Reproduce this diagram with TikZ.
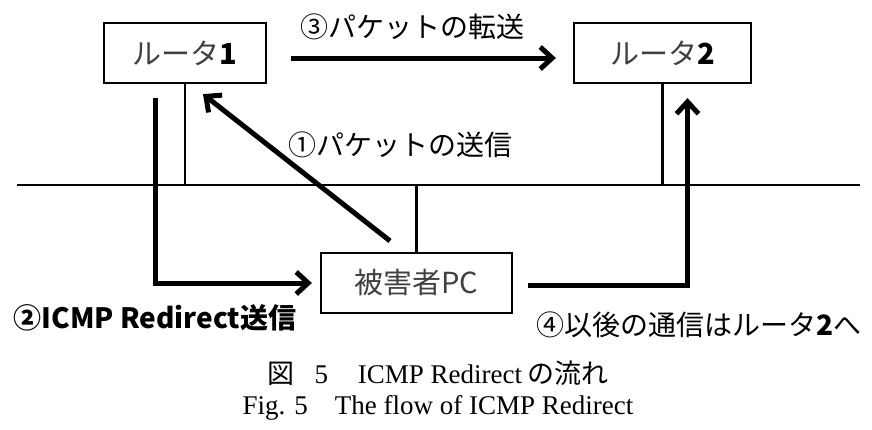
\documentclass[tikz,border=0pt]{standalone}
\usepackage{fontspec}
\setmainfont{Liberation Serif}
\newfontfamily\jpfont{Noto Sans CJK JP}
\usetikzlibrary{arrows.meta}

\begin{document}
\begin{tikzpicture}[x=1pt,y=-1pt,
    box/.style={draw,line width=2.2pt,minimum width=#1,minimum height=60pt,inner sep=0pt,
        font=\jpfont\fontsize{29}{29}\selectfont,text=black!75},
    lan/.style={line width=2.2pt},
    flow/.style={line width=5pt,-{Straight Barb[length=12pt,width=22pt]}},
    lbl/.style={font=\jpfont\fontsize{28}{28}\selectfont,inner sep=0pt}]
    \useasboundingbox (0,0) rectangle (872,429);

    \node[box=162pt] (r1) at (185,53) {ルータ{\bfseries\color{black}1}};
    \node[box=177pt] (r2) at (662.5,53) {ルータ{\bfseries\color{black}2}};
    \node[box=191pt] (pc) at (416.5,283) {被害者PC};

    \coordinate (lanL) at (17,185);
    \coordinate (lanR) at (860,185);
    \draw[lan] (lanL)--(lanR);
    \foreach \n/\a in {r1/south,r2/south,pc/north}{
        \draw[lan] (\n.\a)--(\n.\a |- lanL);
    }

    \draw[flow] ([xshift=-26.5pt,yshift=11pt]pc.north)--([xshift=18pt,yshift=-10pt]r1.south);
    \draw[flow] ([xshift=-30pt,yshift=-14pt]r1.south) |- ([xshift=-8pt]pc.west);
    \draw[flow] ([xshift=24pt,yshift=-5pt]r1.east)--([xshift=-17pt,yshift=-5pt]r2.west);
    \draw[flow] ([xshift=15pt,yshift=-2pt]pc.east) -| ([xshift=25pt,yshift=-14pt]r2.south);

    \node[lbl] (l1) at (400,145) {①パケットの送信};
    \node[lbl,font=\jpfont\bfseries\fontsize{28}{28}\selectfont] (l2) at (155,318) {②ICMP Redirect送信};
    \node[lbl] (l3) at (412,27) {③パケットの転送};
    \node[lbl] (l4) at (699,325) {④以後の通信はルータ{\bfseries 2}へ};

    \node[font=\fontsize{27}{27}\selectfont] (cap1) at (438,373)
        {{\jpfont 図}\hspace{0.75em}5\hspace{1.1em}ICMP Redirect\hspace{0.2em}{\jpfont の流れ}};
    \node[font=\fontsize{27}{27}\selectfont] (cap2) at (438,408)
        {Fig. 5\hspace{1em}The flow of ICMP Redirect};
\end{tikzpicture}
\end{document}
